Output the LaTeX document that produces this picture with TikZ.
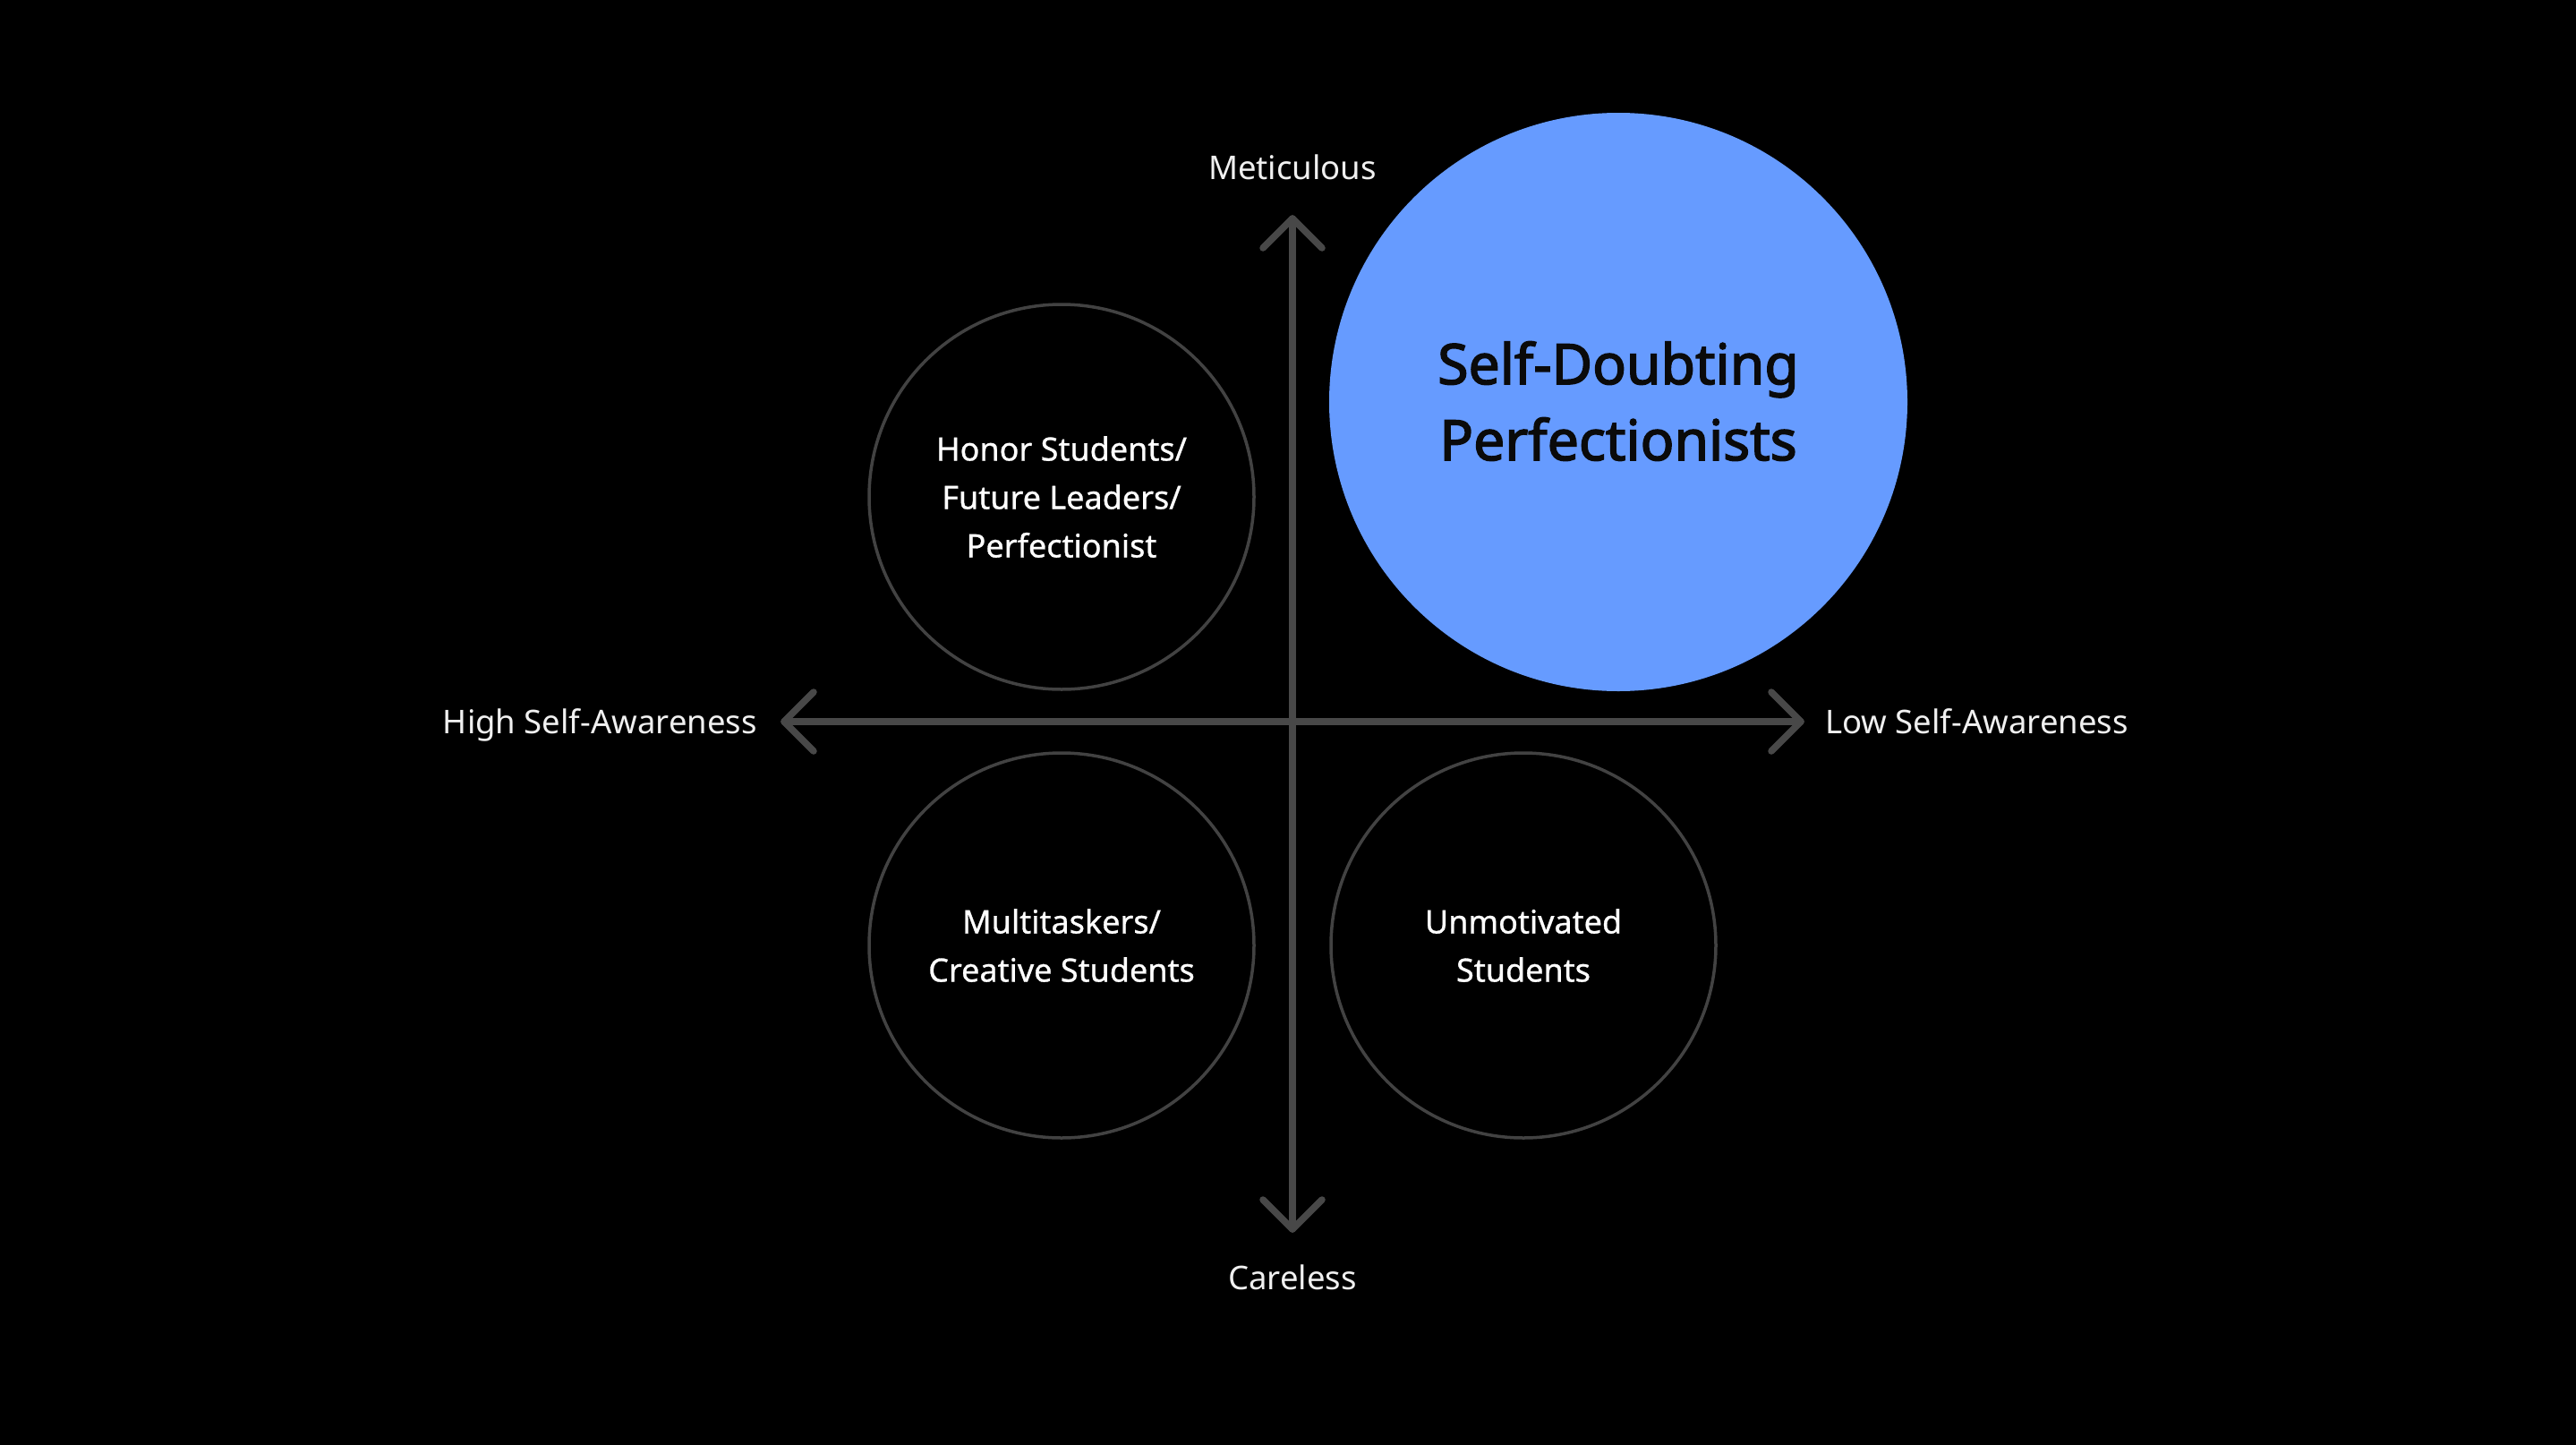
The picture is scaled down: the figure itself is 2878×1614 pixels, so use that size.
\documentclass[tikz,border=0pt]{standalone}
\usepackage{fontspec}
\setmainfont{Noto Sans}
\newfontfamily\medfont{Noto Sans}[FakeBold=0.8]
\newfontfamily\sbfont{Noto Sans}[FakeBold=2.4]
\definecolor{axisgray}{RGB}{72,72,72}
\definecolor{ringgray}{RGB}{66,66,66}
\definecolor{quadblue}{RGB}{102,155,255}
\definecolor{labelwhite}{RGB}{240,240,240}
\definecolor{inkblack}{RGB}{10,10,10}
\begin{document}
\begin{tikzpicture}[x=1pt,y=-1pt,
  axisline/.style={draw=axisgray,line width=7.5pt,line cap=round,line join=round},
  ring/.style={circle,draw=ringgray,line width=3.5pt,minimum size=430pt,inner sep=0pt,align=center,text=white,font=\medfont\fontsize{36}{54}\selectfont},
  axislabel/.style={text=labelwhite,font=\fontsize{36.5}{42}\selectfont,inner sep=0pt},
]
\fill[black] (0,0) rectangle (2878,1614);
\useasboundingbox (0,0) rectangle (2878,1614);
% axes
\coordinate (T) at (1444,244);
\coordinate (B) at (1444,1373);
\coordinate (L) at (876,806);
\coordinate (R) at (2012,806);
\draw[axisline] (L) -- (R);
\draw[axisline] (T) -- (B);
\draw[axisline] ([shift={(33,33)}]T) -- (T) -- ([shift={(-33,33)}]T);
\draw[axisline] ([shift={(33,-33)}]B) -- (B) -- ([shift={(-33,-33)}]B);
\draw[axisline] ([shift={(33,33)}]L) -- (L) -- ([shift={(33,-33)}]L);
\draw[axisline] ([shift={(-33,33)}]R) -- (R) -- ([shift={(-33,-33)}]R);
% axis labels
\node[axislabel,anchor=base] (meti) at (1444,200) {Meticulous};
\node[axislabel,anchor=base] (care) at (1444,1440) {Careless};
\node[axislabel,anchor=base east] (high) at (846,819) {High Self-Awareness};
\node[axislabel,anchor=base west] (low) at (2039,819) {Low Self-Awareness};
% quadrant circles
\node[ring] (honor) at (1186,555) {Honor Students/\\Future Leaders/\\Perfectionist};
\node[ring] (multi) at (1186,1056) {Multitaskers/\\Creative Students};
\node[ring] (unmot) at (1702,1056) {Unmotivated\\Students};
\node[circle,fill=quadblue,minimum size=646pt,inner sep=0pt] (selfd) at (1808,449) {};
\node[align=center,text=inkblack,inner sep=0pt,font=\sbfont\fontsize{62.5}{85}\selectfont] (selfdt) at (1808,448) {Self-Doubting\\Perfectionists};
\end{tikzpicture}
\end{document}
